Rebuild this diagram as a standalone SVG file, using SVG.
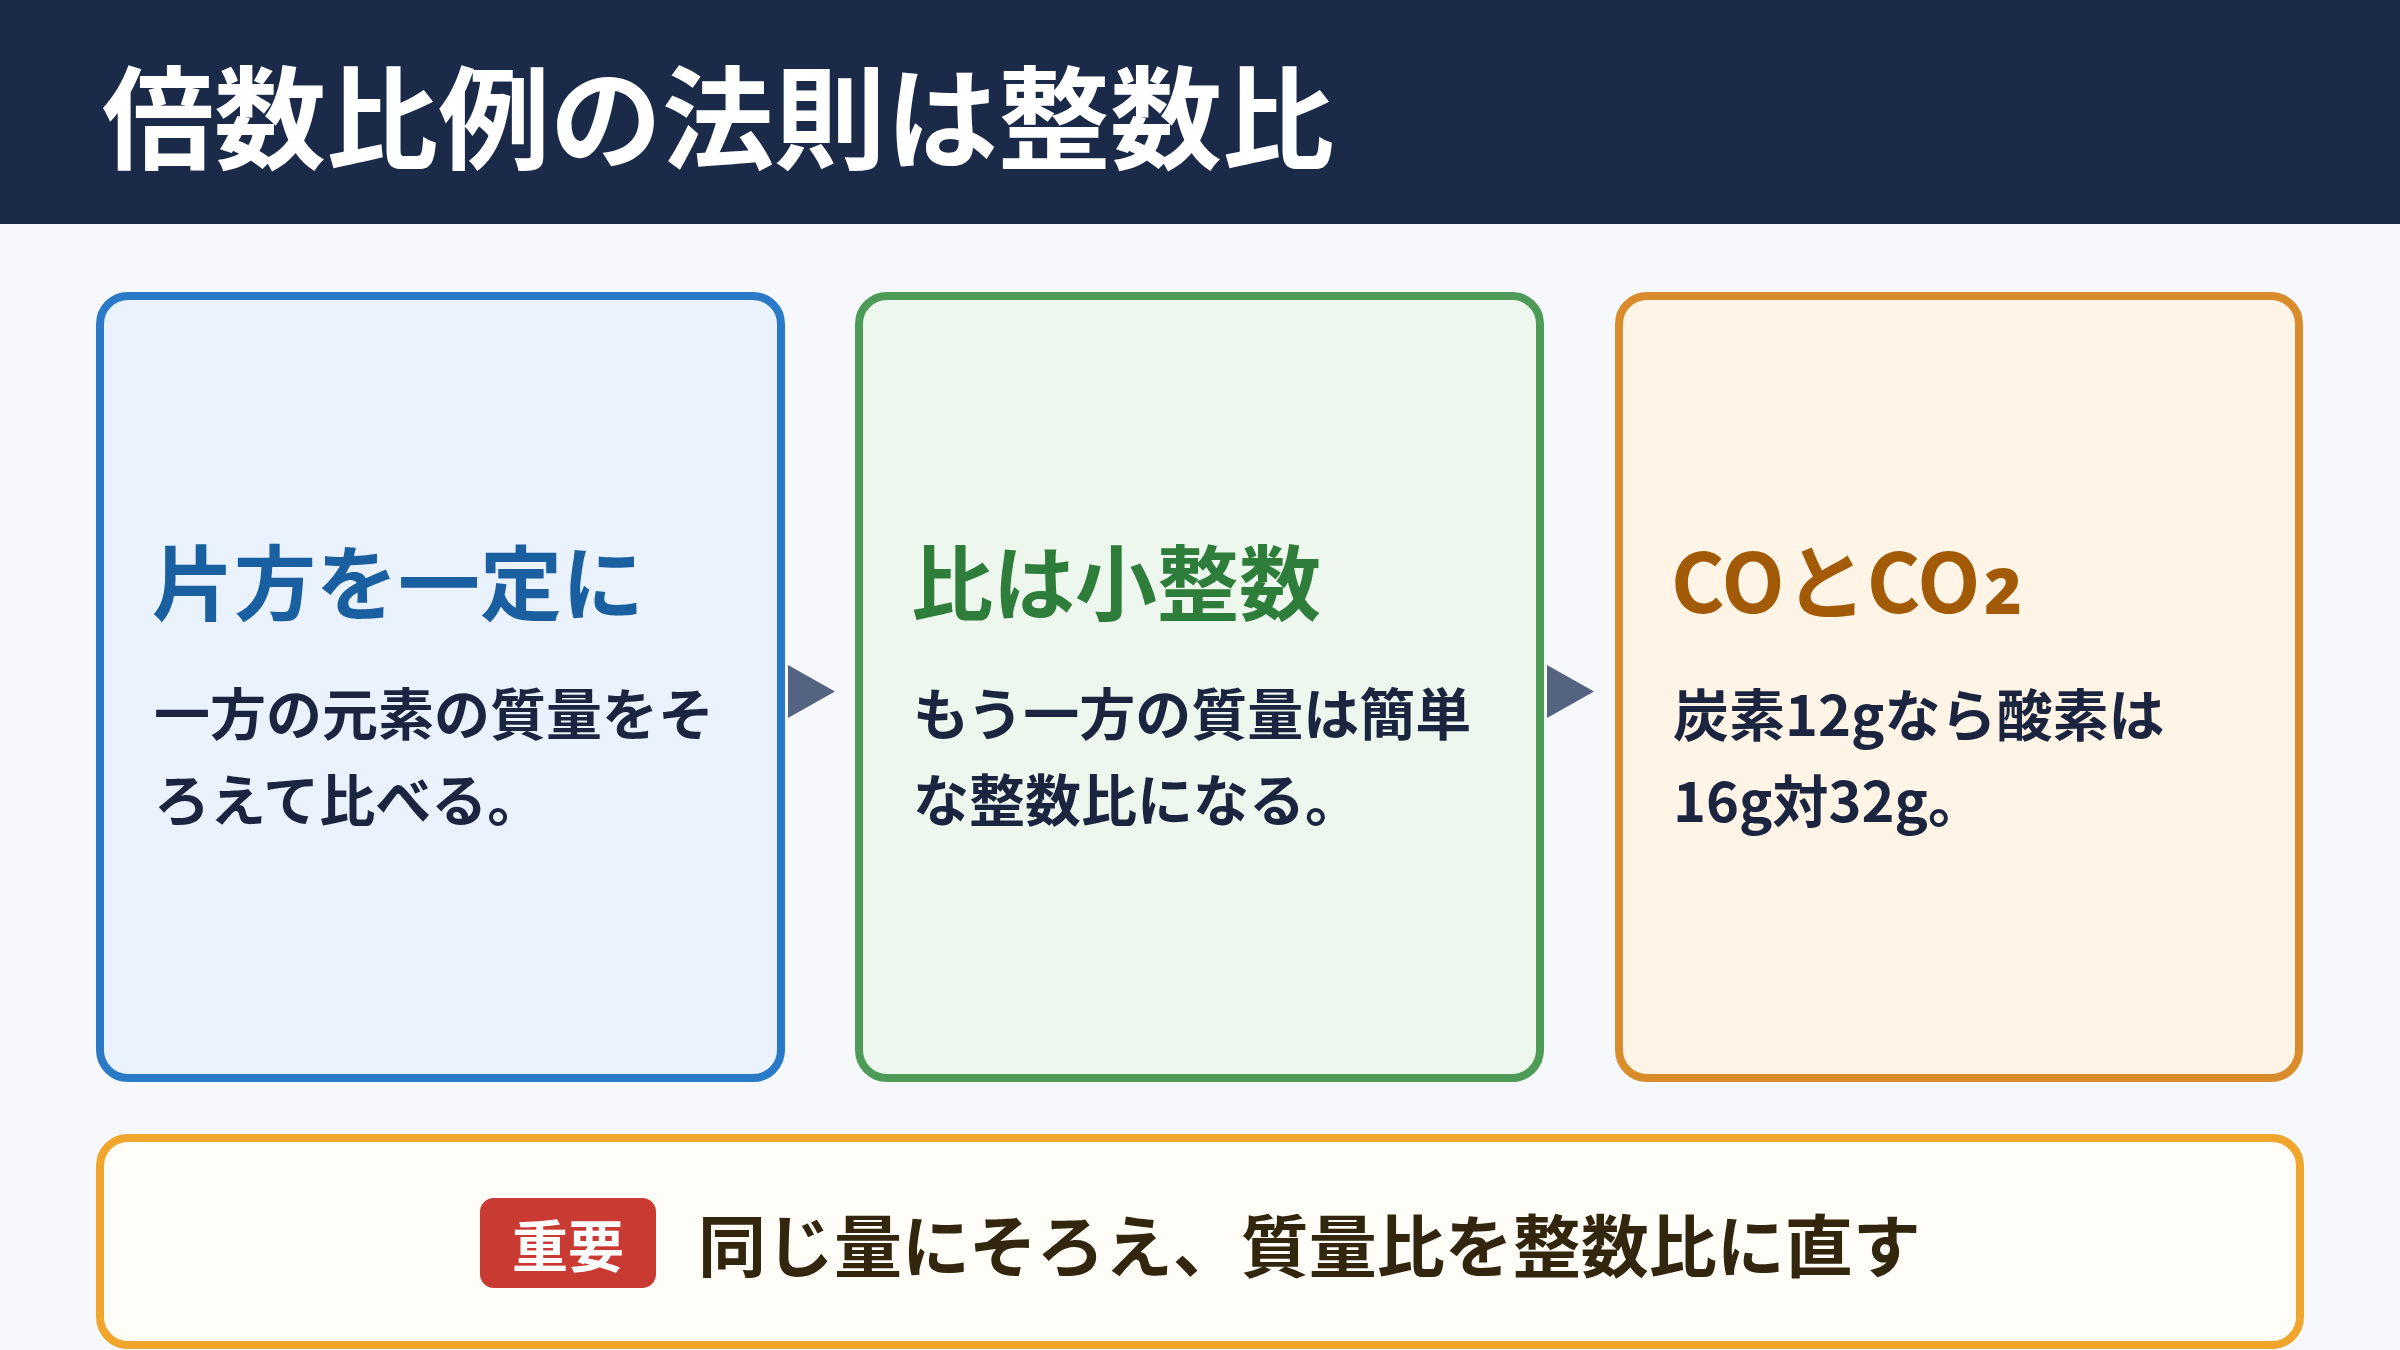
<svg xmlns="http://www.w3.org/2000/svg" width="2400" height="1350" viewBox="0 0 2400 1350">
<style>
text{font-family:"Noto Sans CJK JP","Noto Sans CJK SC",sans-serif;font-weight:700}
.hd{font-size:112px;fill:#ffffff}
.ttl{font-size:82px}
.body{font-size:56px;fill:#1b2540}
.card{stroke-width:8}
.arrow{fill:#536380}
.sub{font-family:"Noto Sans","Liberation Sans",sans-serif;font-size:104px}
</style>
<rect x="0" y="0" width="2400" height="1350" fill="#f6f8fc"/>
<g id="header">
<rect x="0" y="0" width="2400" height="224" fill="#1c2a4a"/>
<text class="hd" x="102" y="161">倍数比例の法則は整数比</text>
</g>
<g id="connectors">
<polygon class="arrow" points="788,665 835,691.5 788,718"/>
<polygon class="arrow" points="1547,665 1594,691.5 1547,718"/>
</g>
<g id="node-1">
<rect class="card" x="100" y="296" width="681" height="782" rx="28" fill="#eaf2fe" stroke="#2a7ac8"/>
<text class="ttl" x="152" y="614" fill="#1a5fa0">片方を一定に</text>
<text class="body" x="154" y="735">一方の元素の質量をそ</text>
<text class="body" x="154" y="821">ろえて比べる。</text>
</g>
<g id="node-2">
<rect class="card" x="859" y="296" width="681" height="782" rx="28" fill="#edf7ee" stroke="#4e9b58"/>
<text class="ttl" x="911" y="614" fill="#2e7d3a">比は小整数</text>
<text class="body" x="913" y="735">もう一方の質量は簡単</text>
<text class="body" x="913" y="821">な整数比になる。</text>
</g>
<g id="node-3">
<rect class="card" x="1619" y="296" width="680" height="782" rx="28" fill="#fff4e6" stroke="#d98c2b"/>
<text class="ttl" x="1671" y="613" fill="#a35a06">COとCO<tspan class="sub" dx="3" dy="-13">₂</tspan></text>
<text class="body" x="1673" y="736">炭素12gなら酸素は</text>
<text class="body" x="1673" y="822">16g対32g。</text>
</g>
<g id="summary">
<rect class="card" x="100" y="1138" width="2200" height="207" rx="28" fill="#fffdf7" stroke="#f0a52c"/>
<rect x="480" y="1198" width="176" height="90" rx="14" fill="#c93a32"/>
<text x="568" y="1267" font-size="56" fill="#ffffff" text-anchor="middle">重要</text>
<text x="698" y="1272" font-size="68" fill="#33260e">同じ量にそろえ、質量比を整数比に直す</text>
</g>
</svg>
